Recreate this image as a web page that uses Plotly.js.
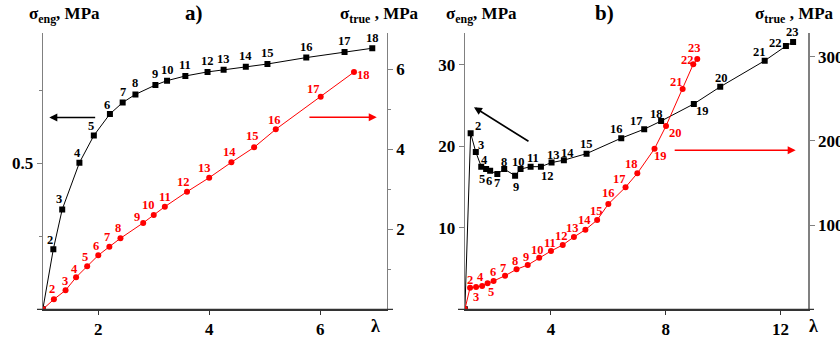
<!DOCTYPE html>
<html><head><meta charset="utf-8">
<script src="https://cdn.plot.ly/plotly-3.0.1.min.js"></script>
<style>
body{margin:0;padding:0;background:#fff}
#plot{width:840px;height:338px}
</style>
</head><body><div id="plot"></div>
<script>
// ---------- DATA ----------
// Panel a)
const idsA = [1,2,3,4,5,6,7,8,9,10,11,12,13,14,15,16,17,18];
const lamA_eng  = [1, 1.19, 1.35, 1.66, 1.92, 2.21, 2.44, 2.67, 3.03, 3.24, 3.57, 3.97, 4.26, 4.66, 5.05, 5.75, 6.44, 6.94];
const sigA_eng  = [0, 0.206, 0.342, 0.502, 0.595, 0.669, 0.708, 0.736, 0.768, 0.783, 0.799, 0.813, 0.820, 0.831, 0.840, 0.862, 0.881, 0.894];
const lamA_true = [1, 1.20, 1.41, 1.60, 1.80, 2.00, 2.20, 2.40, 2.81, 3.00, 3.20, 3.60, 4.00, 4.40, 4.81, 5.20, 6.01, 6.61];
const sigA_true = [0, 0.25, 0.475, 0.80, 1.075, 1.35, 1.565, 1.775, 2.16, 2.36, 2.565, 2.94, 3.29, 3.675, 4.05, 4.50, 5.315, 5.93];
// Panel b)
const idsB = [1,2,3,4,5,6,7,8,9,10,11,12,13,14,15,16,17,18,19,20,21,22,23];
const lamB_eng  = [1, 1.20, 1.38, 1.57, 1.74, 1.88, 2.13, 2.37, 2.75, 2.94, 3.29, 3.65, 4.02, 4.45, 5.24, 6.45, 7.25, 7.84, 8.98, 9.90, 11.45, 12.19, 12.44];
const sigB_eng  = [0, 21.6, 19.3, 17.5, 17.2, 17.0, 16.6, 17.2, 16.4, 17.2, 17.5, 17.5, 18.0, 18.3, 19.1, 21.0, 22.1, 23.1, 25.2, 27.3, 30.5, 32.3, 32.8];
const lamB_true = [1, 1.18, 1.39, 1.60, 1.79, 2.00, 2.40, 2.80, 3.19, 3.59, 4.00, 4.41, 4.80, 5.20, 5.61, 6.00, 6.60, 7.01, 7.61, 8.01, 8.59, 8.96, 9.10];
const sigB_true = [0, 25.7, 26.5, 27.7, 30.9, 33.6, 39.9, 47.5, 52.6, 61.3, 69.2, 76.4, 85.9, 94.5, 106, 125, 145, 161.5, 190.7, 217.7, 261.6, 291, 297.3];
// Tick labels
const xTicksA = [2, 4, 6];
const yTicksA = [0.5];
const y2TicksA = [2, 4, 6];
const xTicksB = [4, 8, 12];
const yTicksB = [10, 20, 30];
const y2TicksB = [100, 200, 300];

// ---------- STYLE / LABEL OFFSETS (px, for points 2..N) ----------
const offBlackA = [[-3,9],[-3,10],[-2,10],[-3,10],[-3,9],[0,11],[0,11],[0,11],[0,11],[0,11],[0,11],[0,11],[0,11],[0,11],[0,11],[0,11],[0,10]];
const offRedA   = [[-2,10],[-1,9],[-2,8],[-2,9],[-2,9],[-2,10],[-2,10],[-6,6],[-5,10],[0,10],[-4,10],[-5,10],[-2,10],[-2,11],[-1,9],[-7,8],[10,-3]];
const offBlackB = [[7,7],[5,7],[3,7],[-4,-10],[-1,-10],[0,-9],[0,7],[1,-11],[-2,7],[2,9],[7,-9],[2,8],[4,7],[0,10],[-5,9],[-8,8],[-5,7],[9,-7],[1,9],[-5,9],[-10,3],[-1,10]];
const offRedB   = [[0,8],[0,-10],[-2,9],[3,-9],[-1,9],[-2,8],[-2,8],[-2,8],[-2,8],[-1,8],[-1,9],[-1,9],[-1,10],[-1,9],[0,11],[-6,8],[-6,9],[6,-7],[9,-7],[-6,7],[-6,4],[-3,11]];

const FAM = 'Liberation Serif';
const W = 840, H = 338;
const px = x => x / W;
const py = y => 1 - y / H;
const RED = '#ff0000', BLK = '#000000', AX = '#808080';

const traces = [
  {x: lamA_eng, y: sigA_eng, xaxis: 'x', yaxis: 'y', mode: 'lines+markers',
   line: {color: BLK, width: 1}, marker: {symbol: 'square', size: 6, color: BLK}},
  {x: lamA_true, y: sigA_true, xaxis: 'x', yaxis: 'y2', mode: 'lines+markers',
   line: {color: RED, width: 1}, marker: {symbol: 'circle', size: 6, color: RED}},
  {x: lamB_eng, y: sigB_eng, xaxis: 'x2', yaxis: 'y3', mode: 'lines+markers',
   line: {color: BLK, width: 1}, marker: {symbol: 'square', size: 6, color: BLK}},
  {x: lamB_true, y: sigB_true, xaxis: 'x2', yaxis: 'y4', mode: 'lines+markers',
   line: {color: RED, width: 1}, marker: {symbol: 'circle', size: 6, color: RED}}
];

const tickfont = {family: FAM, size: 17, color: '#000', weight: 'bold'};
const yDom = [py(309.3), py(33)];
function yax(extra) {
  return Object.assign({
    domain: yDom, showline: true, linecolor: AX, linewidth: 1.2, ticks: 'outside', ticklen: 5,
    tickcolor: AX, tickwidth: 1, showgrid: false, zeroline: false, tickmode: 'array',
    tickfont: tickfont, fixedrange: true, ticklabelstandoff: 0
  }, extra);
}
function xax(extra) {
  return Object.assign({
    showline: true, linecolor: '#333', linewidth: 1.2, ticks: 'outside', ticklen: 4,
    tickcolor: '#333', showgrid: false, zeroline: false, tickmode: 'array',
    tickfont: tickfont, fixedrange: true
  }, extra);
}

const layout = {
  width: W, height: H, autosize: false, showlegend: false,
  font: {family: FAM, color: '#000'},
  margin: {l: 0, r: 0, t: 0, b: 0, pad: 0},
  paper_bgcolor: '#fff', plot_bgcolor: 'rgba(0,0,0,0)',
  xaxis: xax({domain: [px(42.8), px(386.7)], range: [1, 7.2], tickvals: xTicksA, anchor: 'y'}),
  yaxis: yax({anchor: 'x', range: [0, 0.9462], tickvals: yTicksA,
    minor: {dtick: 0.25, tick0: 0, ticks: 'outside', ticklen: 3, tickcolor: AX, showgrid: false}}),
  yaxis2: yax({anchor: 'x', overlaying: 'y', side: 'right', range: [0, 6.9075], tickvals: y2TicksA,
    minor: {dtick: 1, tick0: 0, ticks: 'outside', ticklen: 3, tickcolor: AX, showgrid: false}}),
  xaxis2: xax({domain: [px(464.9), px(808.3)], range: [1, 12.97], tickvals: xTicksB, anchor: 'y3'}),
  yaxis3: yax({anchor: 'x2', range: [0, 33.9], tickvals: yTicksB}),
  yaxis4: yax({anchor: 'x2', overlaying: 'y3', side: 'right', range: [0, 328.1], tickvals: y2TicksB}),
  shapes: [
    {type: 'line', xref: 'paper', yref: 'paper', x0: px(37), x1: px(393), y0: py(309.3), y1: py(309.3), line: {color: '#333', width: 1.2}},
    {type: 'line', xref: 'paper', yref: 'paper', x0: px(458), x1: px(814), y0: py(309.3), y1: py(309.3), line: {color: '#333', width: 1.2}}
  ],
  annotations: []
};

function pointLabels(ids, xs, ys, offs, xref, yref, color) {
  const out = [];
  for (let i = 1; i < ids.length; i++) {
    out.push({x: xs[i], y: ys[i], xref: xref, yref: yref, text: String(ids[i]), showarrow: false,
      xshift: offs[i-1][0], yshift: offs[i-1][1], xanchor: 'center', yanchor: 'middle',
      font: {family: FAM, size: 12.5, color: color, weight: 'bold'}});
  }
  return out;
}
const ann = layout.annotations;
ann.push(...pointLabels(idsA, lamA_eng, sigA_eng, offBlackA, 'x', 'y', BLK));
ann.push(...pointLabels(idsA, lamA_true, sigA_true, offRedA, 'x', 'y2', RED));
ann.push(...pointLabels(idsB, lamB_eng, sigB_eng, offBlackB, 'x2', 'y3', BLK));
ann.push(...pointLabels(idsB, lamB_true, sigB_true, offRedB, 'x2', 'y4', RED));

// arrows
function arrow(xref, yref, xTip, yTip, xTail, yTail, color) {
  return {xref: xref, yref: yref, axref: xref, ayref: yref, x: xTip, y: yTip, ax: xTail, ay: yTail,
    text: '', showarrow: true, arrowhead: 2, arrowsize: 1, arrowwidth: 1.6, arrowcolor: color};
}
ann.push(arrow('x', 'y', 1.117, 0.657, 1.971, 0.657, BLK));
ann.push(arrow('x', 'y2', 7.02, 4.8, 5.78, 4.8, RED));
ann.push(arrow('x2', 'y3', 1.317, 24.8, 3.268, 20.5, BLK));
ann.push(arrow('x2', 'y4', 12.53, 188.8, 8.26, 188.8, RED));

// titles
const tfont = {family: FAM, size: 17, color: '#000', weight: 'bold'};
function ptext(text, x, y, anchor, size) {
  return {xref: 'paper', yref: 'paper', x: px(x), y: py(y), text: text, showarrow: false,
    xanchor: anchor, yanchor: 'middle', font: Object.assign({}, tfont, size ? {size: size} : {})};
}
ann.push(ptext('σ<sub>eng</sub>, MPa', 27, 15, 'left'));
ann.push(ptext('a)', 183, 13, 'left', 21));
ann.push(ptext('σ<sub>true</sub> , MPa', 338, 15, 'left'));
ann.push(ptext('σ<sub>eng</sub>, MPa', 444, 15, 'left'));
ann.push(ptext('b)', 593, 13, 'left', 21));
ann.push(ptext('σ<sub>true</sub> , MPa', 753, 15, 'left'));
ann.push(ptext('λ', 375, 326, 'center', 18));
ann.push(ptext('λ', 813, 326, 'center', 18));

Plotly.newPlot('plot', traces, layout, {displayModeBar: false, staticPlot: true});
</script></body></html>
